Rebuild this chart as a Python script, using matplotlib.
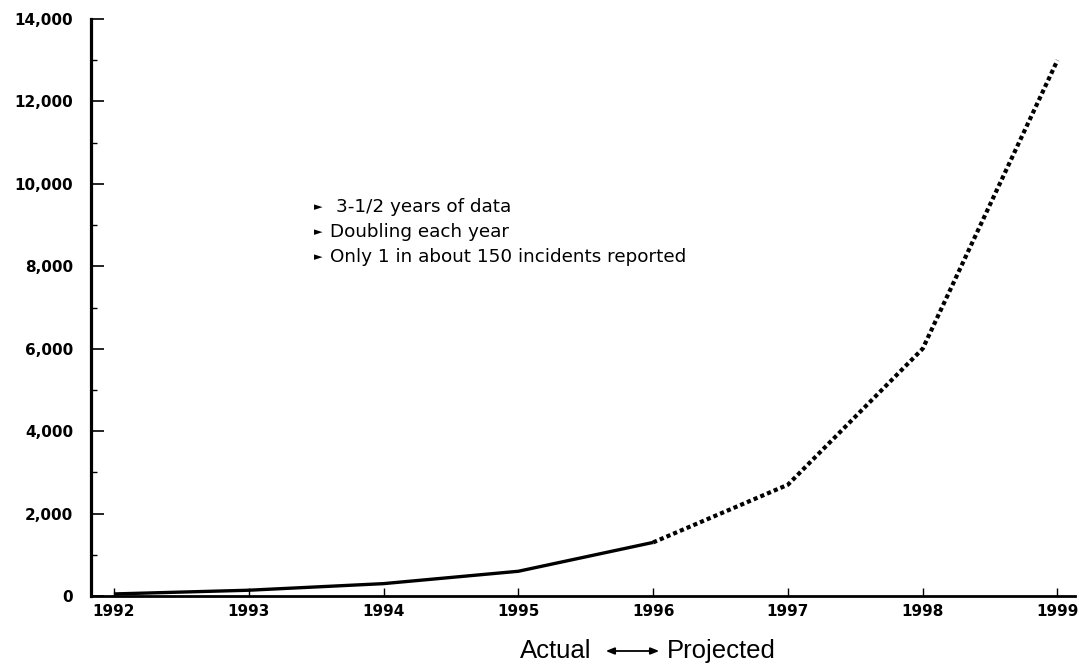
import matplotlib
matplotlib.use("Agg")
import matplotlib.pyplot as plt
from matplotlib.ticker import MultipleLocator, FuncFormatter

# Data
actual_years = [1992, 1993, 1994, 1995, 1996]
actual_values = [50, 140, 300, 600, 1300]
projected_years = [1996, 1997, 1998, 1999]
projected_values = [1300, 2700, 6000, 13000]
x_ticks = [1992, 1993, 1994, 1995, 1996, 1997, 1998, 1999]
bullets = ["3-1/2 years of data", "Doubling each year",
           "Only 1 in about 150 incidents reported"]

fig = plt.figure(figsize=(10.79, 6.65), dpi=100)
ax = fig.add_axes([91/1079, 1-596/665, (1075-91)/1079, (596-19)/665])

ax.plot(actual_years, actual_values, color="black", lw=2.4,
        solid_capstyle="butt", solid_joinstyle="round")
ax.plot(projected_years, projected_values, color="black", lw=3.0,
        linestyle=(0, (1, 0.75)), dash_capstyle="butt")

ax.set_xlim(1991.83, 1999.13)
ax.set_ylim(0, 14000)
ax.set_xticks(x_ticks)
ax.yaxis.set_major_locator(MultipleLocator(2000))
ax.yaxis.set_minor_locator(MultipleLocator(1000))
ax.yaxis.set_major_formatter(FuncFormatter(lambda v, p: f"{int(v):,}"))

for s in ["top", "right"]:
    ax.spines[s].set_visible(False)
ax.spines["left"].set_linewidth(2.3)
ax.spines["bottom"].set_linewidth(2.0)

ax.tick_params(axis="y", which="major", direction="in", length=9, width=1.2,
               pad=13, labelsize=11)
ax.tick_params(axis="y", which="minor", direction="in", length=4, width=1.0)
ax.tick_params(axis="x", which="major", direction="in", length=6, width=1.0,
               pad=6, labelsize=11)
for lab in ax.get_xticklabels() + ax.get_yticklabels():
    lab.set_fontweight("bold")
    lab.set_family("DejaVu Sans")

# Bullet annotation
by = [1-207/665, 1-232/665, 1-257/665]
for i, (t, y) in enumerate(zip(bullets, by)):
    fig.text(314/1079, y, "\u25BA", fontsize=8, family="DejaVu Sans",
             va="center", ha="left")
    fig.text((336 if i == 0 else 330)/1079, y, t, fontsize=13.2,
             family="DejaVu Sans", va="center", ha="left")

# Actual <-> Projected
ty = 1-651/665
fig.text(520/1079, ty, "Actual", fontsize=18.5, family="Liberation Sans",
         va="center", ha="left")
fig.text(667/1079, ty, "Projected", fontsize=18.5, family="Liberation Sans",
         va="center", ha="left")
fig.patches.append(matplotlib.patches.FancyArrowPatch(
    (603/1079, ty), (662/1079, ty), transform=fig.transFigure,
    arrowstyle="<|-|>,head_length=5,head_width=2", color="black", lw=1.3,
    mutation_scale=1))

fig.savefig("out.png", dpi=100)
